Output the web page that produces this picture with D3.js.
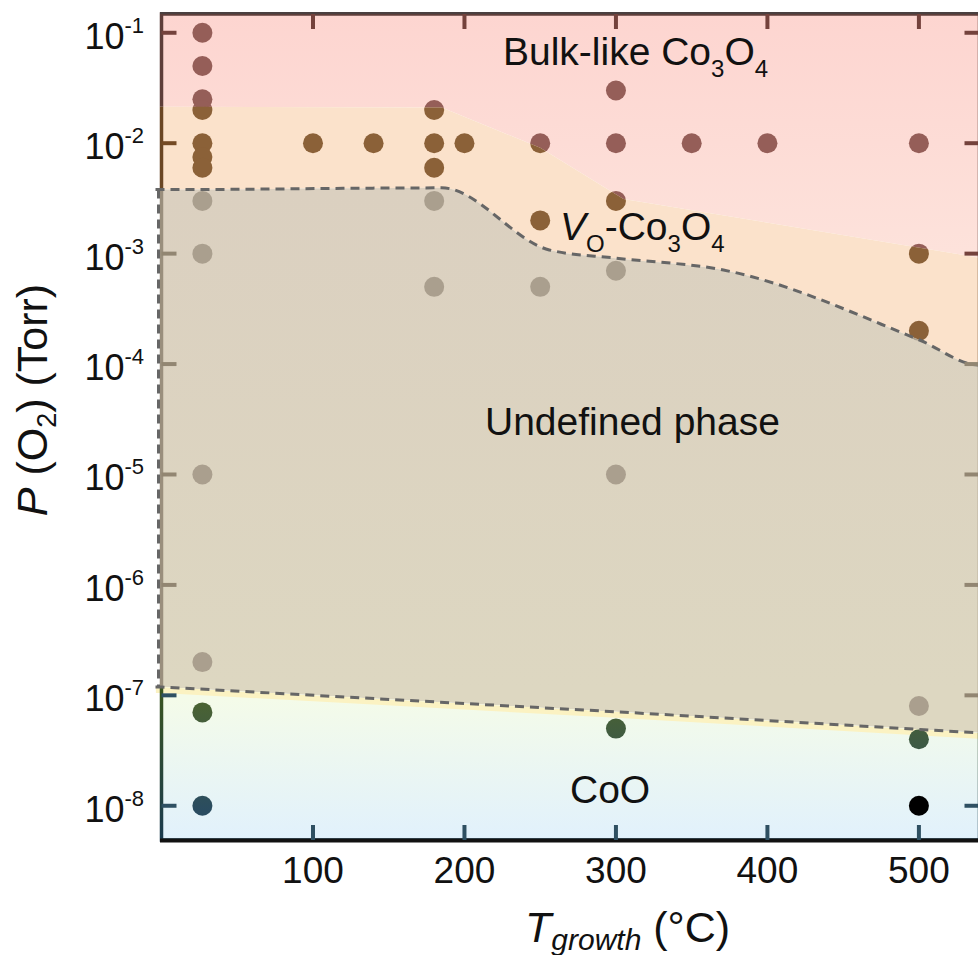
<!DOCTYPE html>
<html>
<head>
<meta charset="utf-8">
<script src="https://cdn.jsdelivr.net/npm/d3@7"></script>
<style>
  body { margin: 0; background: #fff; }
  text { font-family: "Liberation Sans", Arial, sans-serif; fill: #111; }
</style>
</head>
<body>
<svg id="phase_chart" width="978" height="955"></svg>
<script>
// growth samples (T in degC, P(O2) in Torr)
const sampleTemp = [27, 27, 27, 27, 27, 27, 27, 27, 27, 27, 27, 27, 27,
  100, 140, 180, 180, 180, 180, 180, 200, 250, 250, 250,
  300, 300, 300, 300, 300, 300, 350, 400, 500, 500, 500, 500, 500];
const samplePressure = [1e-1, 5e-2, 2.5e-2, 2e-2, 1e-2, 7.5e-3, 6e-3, 3e-3, 1e-3, 1e-5, 2e-7, 7e-8, 1e-8,
  1e-2, 1e-2, 2e-2, 1e-2, 6e-3, 3e-3, 5e-4, 1e-2, 1e-2, 2e-3, 5e-4,
  3e-2, 1e-2, 3e-3, 7e-4, 1e-5, 5e-8, 1e-2, 1e-2, 1e-2, 1e-3, 2e-4, 8e-8, 4e-8];
const blackTemp = [500];
const blackPressure = [1e-8];

// phase boundaries
const bulkEdgeTemp = [0, 185, 250, 305, 540];
const bulkEdgePressure = [2.14e-2, 2.1e-2, 9.1e-3, 3.13e-3, 9.2e-4];
const upperDashTemp = [0, 185, 256, 300, 371, 500, 540];
const upperDashPressure = [3.8e-3, 3.94e-3, 1.08e-3, 9.1e-4, 7.1e-4, 1.66e-4, 9.8e-5];
const lowerDashTemp = [0, 300, 540];
const lowerDashPressure = [1.19e-7, 7.1e-8, 4.57e-8];

const xTickValues = [100, 200, 300, 400, 500];
const yExponents = [-1, -2, -3, -4, -5, -6, -7, -8];

const svg = d3.select("svg#phase_chart");
const x = d3.scaleLinear([0, 540], [161.5, 979.5]);
const y = d3.scaleLog([Math.pow(10, -8.31), Math.pow(10, -0.83)], [840, 14]);
const x0 = x.range()[0], x1 = x.range()[1];
const yTop = y.range()[1], yBot = y.range()[0];
const pad = 6;
const tickLen = 15;
const decades = yExponents.map(e => Math.pow(10, e));

function edgePoints(temps, pres) {
  const pts = temps.map((t, i) => [x(t), y(pres[i])]);
  pts.unshift([x0 - pad, pts[0][1]]);
  pts.push([x1 + pad, pts[pts.length - 1][1]]);
  return pts;
}
const bulkEdge = edgePoints(bulkEdgeTemp, bulkEdgePressure);
const upperDash = edgePoints(upperDashTemp, upperDashPressure);
const lowerDash = edgePoints(lowerDashTemp, lowerDashPressure);

const defs = svg.append("defs");
function vGrad(id, ya, yb, ca, cb) {
  const g = defs.append("linearGradient").attr("id", id)
    .attr("gradientUnits", "userSpaceOnUse")
    .attr("x1", 0).attr("x2", 0).attr("y1", ya).attr("y2", yb);
  g.append("stop").attr("offset", 0).attr("stop-color", ca);
  g.append("stop").attr("offset", 1).attr("stop-color", cb);
}
vGrad("g_bulk", yTop, 250, "#fdd5d0", "#fde2db");
vGrad("g_undef", 190, 690, "#dbd0c0", "#ddd7c1");
vGrad("g_coo", 700, yBot, "#f4fbe9", "#e1f1fc");
vGrad("g_coo_dot", 700, 810, "#4b6331", "#2a4c60");
vGrad("g_coo_axis", 690, 840, "#3a5520", "#1a3a4e");

// each band lies between an upper and a lower edge (null = frame)
const regions = [
  { id: "bulk", top: null, bottom: bulkEdge, topCurve: null, botCurve: d3.curveLinear,
    bg: "url(#g_bulk)", dot: "#955e58", axis: "#74423c", frame: "#5e3e3a" },
  { id: "vo", top: bulkEdge, bottom: upperDash, topCurve: d3.curveLinear, botCurve: d3.curveMonotoneX,
    bg: "#fbe2cb", dot: "#8b6138", axis: "#744a24", frame: "#6a4624" },
  { id: "undef", top: upperDash, bottom: lowerDash, topCurve: d3.curveMonotoneX, botCurve: d3.curveLinear,
    bg: "url(#g_undef)", dot: "#aa9f8e", axis: "#928672", frame: "#9a8f7d" },
  { id: "coo", top: lowerDash, bottom: null, topCurve: d3.curveLinear, botCurve: null,
    bg: "url(#g_coo)", dot: "url(#g_coo_dot)", axis: "#2f5062", frame: "url(#g_coo_axis)" }
];

const below = (edge, curve) => d3.area().x(d => d[0]).y0(yBot + pad).y1(d => d[1]).curve(curve)(edge);
const above = (edge, curve) => d3.area().x(d => d[0]).y0(yTop - pad).y1(d => d[1]).curve(curve)(edge);

const samples = sampleTemp.map((t, i) => ({ t: t, p: samplePressure[i] }));

regions.forEach(r => {
  const cTop = defs.append("clipPath").attr("id", "cut_top_" + r.id);
  if (r.top) cTop.append("path").attr("d", below(r.top, r.topCurve));
  else cTop.append("rect").attr("x", x0 - pad).attr("y", yTop - pad)
    .attr("width", x1 - x0 + 2 * pad).attr("height", yBot - yTop + 2 * pad);
  const cBot = defs.append("clipPath").attr("id", "cut_bot_" + r.id);
  if (r.bottom) cBot.append("path").attr("d", above(r.bottom, r.botCurve));
  else cBot.append("rect").attr("x", x0 - pad).attr("y", yTop - pad)
    .attr("width", x1 - x0 + 2 * pad).attr("height", yBot - yTop + 2 * pad);
});

const bandLayer = svg.append("g").attr("id", "bands");
const markLayer = svg.append("g").attr("id", "marks");

function bandGroup(layer, r) {
  return layer.append("g").attr("clip-path", `url(#cut_top_${r.id})`)
    .append("g").attr("clip-path", `url(#cut_bot_${r.id})`);
}

regions.forEach(r => {
  const bg = bandGroup(bandLayer, r);
  bg.append("rect").attr("x", x0).attr("y", yTop)
    .attr("width", x1 - x0).attr("height", yBot - yTop)
    .attr("fill", r.bg);
  if (r.id === "coo") {
    bg.append("path")
      .attr("d", d3.line()(lowerDash.map(d => [d[0], d[1] + 3])))
      .attr("fill", "none").attr("stroke", "#fbf2c2").attr("stroke-width", 6);
  }

  const g = bandGroup(markLayer, r);
  g.append("rect").attr("x", x0).attr("y", yTop)
    .attr("width", x1 - x0).attr("height", yBot - yTop)
    .attr("fill", "none").attr("stroke", r.frame).attr("stroke-width", 3.5);

  g.selectAll("circle.dot_" + r.id)
    .data(samples)
    .join("circle")
    .attr("class", "dot_" + r.id)
    .attr("cx", d => x(d.t))
    .attr("cy", d => y(d.p))
    .attr("r", 10)
    .attr("fill", r.dot);
});

// which band a pixel position falls in
function edgeY(edge, px) {
  for (let i = 1; i < edge.length; i++) {
    if (px <= edge[i][0]) {
      const a = edge[i - 1], b = edge[i];
      return a[1] + (b[1] - a[1]) * (px - a[0]) / (b[0] - a[0]);
    }
  }
  return edge[edge.length - 1][1];
}
function bandAt(px, py) {
  let k = 0;
  [bulkEdge, upperDash, lowerDash].forEach(e => { if (py > edgeY(e, px)) k++; });
  return regions[k];
}

// top frame stays dark across the colour bands
svg.append("line")
  .attr("x1", x0 - 1.5).attr("x2", x1 + pad).attr("y1", yTop - 1).attr("y2", yTop - 1)
  .attr("stroke", "#4a4040").attr("stroke-width", 2);

// dashed borders of the undefined phase
const dashStyle = sel => sel.attr("fill", "none").attr("stroke", "#666")
  .attr("stroke-width", 3).attr("stroke-dasharray", "9,6");
svg.append("path").attr("d", d3.line().curve(d3.curveMonotoneX)(upperDash)).call(dashStyle);
svg.append("path").attr("d", d3.line()(lowerDash)).call(dashStyle);
svg.append("path")
  .attr("d", d3.line()([[x0 - 3, upperDash[0][1]], [x0 - 3, lowerDash[0][1]]]))
  .call(dashStyle);

svg.selectAll("circle.black_dot")
  .data(blackTemp.map((t, i) => ({ t: t, p: blackPressure[i] })))
  .join("circle")
  .attr("class", "black_dot")
  .attr("cx", d => x(d.t)).attr("cy", d => y(d.p)).attr("r", 10)
  .attr("fill", "#000");

svg.append("line")
  .attr("x1", x0 - 1.5).attr("x2", x1 + pad).attr("y1", yBot + 0.5).attr("y2", yBot + 0.5)
  .attr("stroke", "#111").attr("stroke-width", 4);

// inward ticks on all four sides, drawn last so nothing covers them
const tickMarks = [];
decades.forEach(d => {
  tickMarks.push({ xa: x0, xb: x0 + tickLen, ya: y(d), yb: y(d) });
  tickMarks.push({ xa: x1, xb: x1 - tickLen, ya: y(d), yb: y(d) });
});
xTickValues.forEach(d => {
  tickMarks.push({ xa: x(d), xb: x(d), ya: yTop, yb: yTop + tickLen });
  tickMarks.push({ xa: x(d), xb: x(d), ya: yBot, yb: yBot - tickLen });
});
svg.append("g").attr("id", "ticks")
  .selectAll("line.tick_mark")
  .data(tickMarks)
  .join("line")
  .attr("class", "tick_mark")
  .attr("x1", d => d.xa).attr("x2", d => d.xb)
  .attr("y1", d => d.ya).attr("y2", d => d.yb)
  .attr("stroke", d => bandAt((d.xa + d.xb) / 2, (d.ya + d.yb) / 2).axis)
  .attr("stroke-width", 4);

// tick labels
svg.selectAll("text.x_tick")
  .data(xTickValues)
  .join("text")
  .attr("class", "x_tick")
  .attr("x", d => x(d))
  .attr("y", 883)
  .attr("text-anchor", "middle")
  .attr("font-size", 37)
  .text(d => d);

const yLabels = svg.selectAll("text.y_tick")
  .data(decades)
  .join("text")
  .attr("class", "y_tick")
  .attr("x", 144)
  .attr("y", d => y(d) + 16)
  .attr("text-anchor", "end")
  .attr("font-size", 36);
yLabels.append("tspan").text("10");
yLabels.append("tspan").attr("dy", -16).attr("font-size", 22)
  .text(d => "-" + Math.round(-Math.log10(d)));

// axis titles
const xTitle = svg.append("text").attr("x", 525).attr("y", 942).attr("font-size", 43);
xTitle.append("tspan").attr("font-style", "italic").text("T");
xTitle.append("tspan").attr("font-style", "italic").attr("font-size", 30).attr("dy", 8).text("growth");
xTitle.append("tspan").attr("dy", -8).text(" (\u00b0C)");

const yTitle = svg.append("text")
  .attr("transform", "translate(47,400) rotate(-90)")
  .attr("text-anchor", "middle")
  .attr("font-size", 43);
yTitle.append("tspan").attr("font-style", "italic").text("P");
yTitle.append("tspan").text(" (O");
yTitle.append("tspan").attr("font-size", 27).attr("dy", 9).text("2");
yTitle.append("tspan").attr("dy", -9).text(") (Torr)");

// phase labels
function chemLabel(xp, yp, parts) {
  const t = svg.append("text").attr("x", xp).attr("y", yp).attr("font-size", 39);
  let shifted = false;
  parts.forEach(p => {
    const s = t.append("tspan").text(p.s);
    if (p.sub && !shifted) { s.attr("dy", 12).attr("font-size", 24); shifted = true; }
    else if (!p.sub && shifted) { s.attr("dy", -12); shifted = false; }
    else if (p.sub) { s.attr("font-size", 24); }
    if (p.it) s.attr("font-style", "italic");
  });
}
chemLabel(503, 65, [{ s: "Bulk-like Co" }, { s: "3", sub: true }, { s: "O" }, { s: "4", sub: true }]);
chemLabel(560, 240, [{ s: "V", it: true }, { s: "O", sub: true }, { s: "-Co" }, { s: "3", sub: true }, { s: "O" }, { s: "4", sub: true }]);
chemLabel(485, 435, [{ s: "Undefined phase" }]);
chemLabel(570, 803, [{ s: "CoO" }]);
</script>
</body>
</html>
